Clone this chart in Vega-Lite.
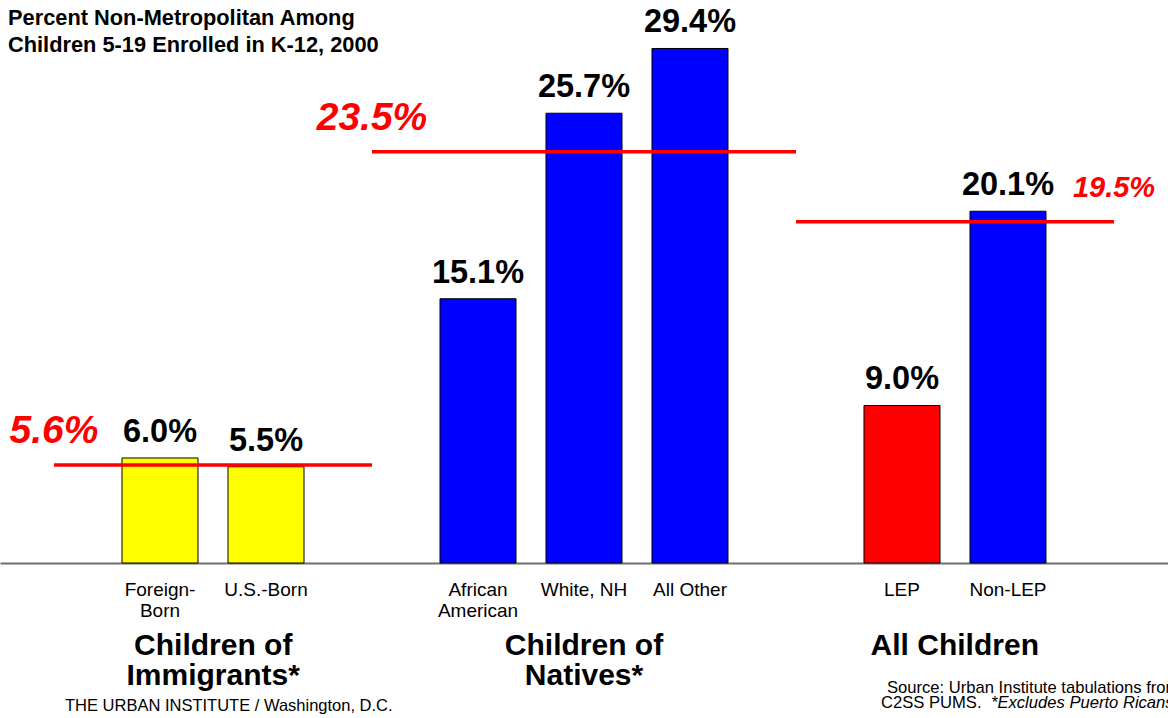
{
  "$schema": "https://vega.github.io/schema/vega-lite/v6.json",
  "width": 1168,
  "height": 563,
  "autosize": {"type": "none"},
  "padding": {"left": 0, "top": 0, "right": 0, "bottom": 155},
  "background": "white",
  "config": {"view": {"stroke": null}, "font": "Liberation Sans"},
  "title": {
    "text": ["Percent Non-Metropolitan Among", "Children 5-19 Enrolled in K-12, 2000"],
    "anchor": "start",
    "frame": "group",
    "orient": "top",
    "offset": -57,
    "dx": 8,
    "font": "Liberation Sans",
    "fontSize": 21.8,
    "fontWeight": "bold",
    "lineHeight": 27,
    "color": "black"
  },
  "datasets": {
    "bars": [
      {"category": "Foreign-Born", "pct": 6.0, "label": "6.0%"},
      {"category": "U.S.-Born", "pct": 5.5, "label": "5.5%"},
      {"category": "African American", "pct": 15.1, "label": "15.1%"},
      {"category": "White, NH", "pct": 25.7, "label": "25.7%"},
      {"category": "All Other", "pct": 29.4, "label": "29.4%"},
      {"category": "LEP", "pct": 9.0, "label": "9.0%"},
      {"category": "Non-LEP", "pct": 20.1, "label": "20.1%"}
    ],
    "refs": [
      {"label": "5.6%", "value": 5.6, "start": "pad0", "end": "gap1", "labelAt": "pad0"},
      {"label": "23.5%", "value": 23.5, "start": "gap1", "end": "gap2", "labelAt": "gap1"},
      {"label": "19.5%", "value": 19.5, "start": "gap2", "end": "pad1", "labelAt": "pad1"}
    ],
    "groups": [
      {"group": "Children of\nImmigrants*"},
      {"group": "Children of\nNatives*"},
      {"group": "All Children"}
    ],
    "notes": [{"text": "note"}]
  },
  "resolve": {"scale": {"x": "independent"}},
  "layer": [
    {
      "layer": [
        {
          "data": {"name": "bars"},
          "mark": {"type": "bar", "stroke": "black", "strokeWidth": 1},
          "encoding": {
            "x": {
              "field": "category",
              "type": "nominal",
              "sort": null,
              "scale": {
                "domain": ["pad0", "Foreign-Born", "U.S.-Born", "gap1", "African American", "White, NH", "All Other", "gap2", "LEP", "Non-LEP", "pad1"],
                "paddingInner": 0.283,
                "paddingOuter": 0.151
              },
              "axis": {
                "title": null,
                "orient": "bottom",
                "domainColor": "#707070",
                "domainWidth": 2,
                "ticks": false,
                "labelAngle": 0,
                "labelFont": "Liberation Sans",
                "labelFontSize": 19,
                "labelColor": "black",
                "labelPadding": 17,
                "labelLineHeight": 21,
                "labelBaseline": "top",
                "labelExpr": "datum.value == 'Foreign-Born' ? ['Foreign-', 'Born'] : datum.value == 'African American' ? ['African', 'American'] : (indexof(datum.value, 'pad') == 0 || indexof(datum.value, 'gap') == 0) ? '' : datum.value"
              }
            },
            "y": {
              "field": "pct",
              "type": "quantitative",
              "scale": {"domain": [0, 32.17], "nice": false, "zero": true},
              "axis": null
            },
            "color": {
              "field": "category",
              "type": "nominal",
              "scale": {
                "domain": ["Foreign-Born", "U.S.-Born", "African American", "White, NH", "All Other", "LEP", "Non-LEP"],
                "range": ["#ffff00", "#ffff00", "#0000ff", "#0000ff", "#0000ff", "#ff0000", "#0000ff"]
              },
              "legend": null
            }
          }
        },
        {
          "data": {"name": "bars"},
          "mark": {"type": "text", "font": "Liberation Sans", "fontWeight": "bold", "fontSize": 32.5, "baseline": "alphabetic", "dy": -16, "color": "black"},
          "encoding": {
            "x": {"field": "category", "type": "nominal"},
            "y": {"field": "pct", "type": "quantitative"},
            "text": {"field": "label"}
          }
        },
        {
          "data": {"name": "refs"},
          "mark": {"type": "rule", "color": "#ff0000", "strokeWidth": 3.5},
          "encoding": {
            "x": {"field": "start", "type": "nominal"},
            "x2": {"field": "end"},
            "y": {"field": "value", "type": "quantitative"}
          }
        },
        {
          "data": {"name": "refs"},
          "mark": {"type": "text", "font": "Liberation Sans", "fontWeight": "bold", "fontStyle": "italic", "baseline": "middle", "dy": -34, "color": "#ff0000"},
          "encoding": {
            "x": {"field": "labelAt", "type": "nominal"},
            "y": {"field": "value", "type": "quantitative"},
            "text": {"field": "label"},
            "size": {"condition": {"test": "datum.value == 19.5", "value": 29}, "value": 39}
          }
        },
        {
          "data": {"name": "notes"},
          "mark": {"type": "text", "font": "Liberation Sans", "fontSize": 16.5, "align": "left", "baseline": "middle", "dx": 11, "color": "black"},
          "encoding": {
            "x": {"datum": "pad0"},
            "y": {"datum": -8.17},
            "text": {"value": "THE URBAN INSTITUTE / Washington, D.C."}
          }
        },
        {
          "data": {"name": "notes"},
          "mark": {"type": "text", "font": "Liberation Sans", "fontSize": 16.6, "align": "left", "baseline": "middle", "dx": -15, "color": "black"},
          "encoding": {
            "x": {"datum": "LEP"},
            "y": {"datum": -7.14},
            "text": {"value": "Source: Urban Institute tabulations from"}
          }
        },
        {
          "data": {"name": "notes"},
          "mark": {"type": "text", "font": "Liberation Sans", "fontSize": 16.6, "align": "left", "baseline": "middle", "dx": -21, "color": "black"},
          "encoding": {
            "x": {"datum": "LEP"},
            "y": {"datum": -8.0},
            "text": {"value": "C2SS PUMS."}
          }
        },
        {
          "data": {"name": "notes"},
          "mark": {"type": "text", "font": "Liberation Sans", "fontSize": 16.6, "fontStyle": "italic", "align": "left", "baseline": "middle", "dx": 89, "color": "black"},
          "encoding": {
            "x": {"datum": "LEP"},
            "y": {"datum": -8.0},
            "text": {"value": "*Excludes Puerto Ricans"}
          }
        }
      ]
    },
    {
      "data": {"name": "groups"},
      "mark": {"type": "text", "font": "Liberation Sans", "fontWeight": "bold", "fontSize": 30, "baseline": "top", "lineBreak": "\n", "lineHeight": 30, "color": "black"},
      "encoding": {
        "x": {"field": "group", "type": "nominal", "sort": null, "scale": {"type": "point", "padding": 0.575}, "axis": null},
        "y": {"datum": -3.9, "type": "quantitative"},
        "text": {"field": "group"}
      }
    }
  ]
}
